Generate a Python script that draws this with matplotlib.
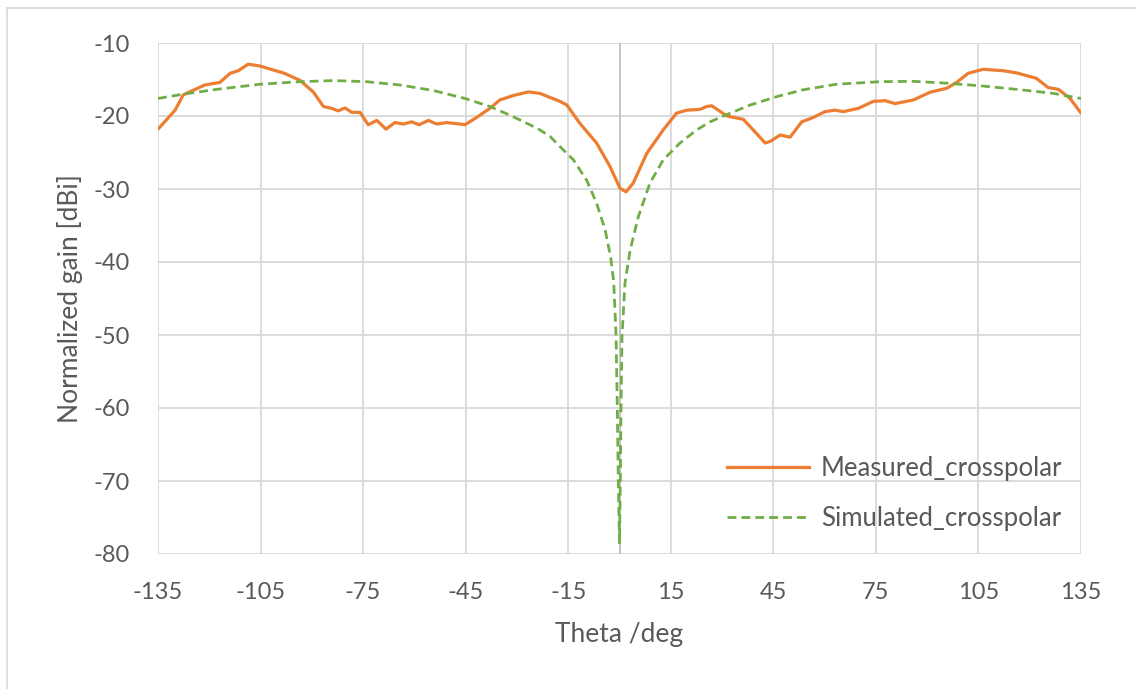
import matplotlib
matplotlib.use("Agg")
import matplotlib.pyplot as plt
from matplotlib.lines import Line2D

# Measured cross-polar pattern (theta in degrees, gain in dBi)
measured_theta = [-135, -130.0, -127.6, -121.3, -116.9, -113.9, -111.5, -108.6, -105.2,
                  -101.3, -98.3, -93.5, -89.6, -86.6, -84.2, -82.3, -80.3, -78.3, -75.9,
                  -73.5, -71.0, -68.3, -65.7, -63.2, -60.8, -58.6, -55.9, -53.5, -50.6,
                  -46.7, -45.2, -41.8, -37.9, -35.0, -31.1, -26.7, -23.3, -17.4, -15.4,
                  -11.6, -6.7, -2.8, 0.15, 1.9, 4.0, 8.0, 12.8, 16.7, 19.7, 23.5,
                  25.5, 27.0, 28.9, 31.4, 36.2, 39.1, 42.6, 44.0, 47.0, 49.9, 53.3, 56.7,
                  60.1, 63.0, 65.5, 69.9, 74.2, 77.7, 80.6, 86.0, 90.8, 95.7, 98.6, 102.0,
                  106.4, 112.3, 116.2, 122.0, 125.4, 128.4, 131.8, 135]
measured_gain = [-21.8, -19.2, -17.1, -15.75, -15.4, -14.15, -13.8, -12.9, -13.15,
                 -13.7, -14.1, -15.1, -16.7, -18.7, -18.95, -19.3, -18.9, -19.5, -19.5,
                 -21.2, -20.6, -21.8, -20.9, -21.1, -20.8, -21.2, -20.6, -21.1, -20.9,
                 -21.1, -21.2, -20.2, -18.95, -17.8, -17.2, -16.7, -16.9, -18.0, -18.5,
                 -21.0, -23.7, -26.9, -29.9, -30.4, -29.2, -25.1, -21.9, -19.6, -19.2,
                 -19.1, -18.7, -18.6, -19.2, -20.0, -20.45, -21.9, -23.7, -23.5, -22.6,
                 -22.9, -20.8, -20.2, -19.4, -19.2, -19.4, -18.95, -18.0, -17.9, -18.3,
                 -17.8, -16.75, -16.2, -15.4, -14.15, -13.6, -13.8, -14.1, -14.85,
                 -16.1, -16.35, -17.6, -19.6]

# Simulated cross-polar pattern
simulated_theta = [-135, -127.6, -117.8, -105.2, -93.5, -83.7, -74.0, -64.3, -54.5,
                   -45.2, -37.9, -32.0, -26.2, -23.3, -20.3, -17.4, -13.5, -9.6, -6.7,
                   -4.2, -2.6, -1.7, -1.0, -0.64, -0.35, 0.0, 0.24, 0.44, 0.73, 1.6,
                   3.1, 5.5, 8.9, 12.8, 17.7, 22.6, 26.5, 30.4, 38.2, 46.0, 53.8, 63.5,
                   76.2, 86.0, 95.7, 106.4, 117.2, 126.9, 135]
simulated_gain = [-17.6, -17.0, -16.35, -15.65, -15.3, -15.15, -15.3, -15.75, -16.5,
                  -17.6, -18.7, -19.9, -21.2, -21.9, -22.8, -24.2, -26.0, -28.8, -31.95,
                  -35.6, -39.3, -42.7, -50.2, -60.0, -69.9, -78.5, -69.9, -60.0, -50.2,
                  -42.9, -38.4, -33.8, -29.2, -26.0, -23.7, -21.9, -20.8, -20.0, -18.5,
                  -17.35, -16.4, -15.65, -15.3, -15.25, -15.5, -15.9, -16.4, -16.9,
                  -17.6]

x_ticks = [-135, -105, -75, -45, -15, 15, 45, 75, 105, 135]
y_ticks = [-80, -70, -60, -50, -40, -30, -20, -10]

label_color = "#595959"
grid_color = "#D9D9D9"
font = "Lato"
sim_dash = (0, (3.2, 1.8))

fig = plt.figure(figsize=(11.36, 6.89), dpi=100)
ax = fig.add_axes([158 / 1136, 1 - 554 / 689, (1081 - 158) / 1136, (554 - 43) / 689])

ax.plot(measured_theta, measured_gain, color="#ED7D31", lw=2.3,
        solid_joinstyle="round", solid_capstyle="round",
        label="Measured_crosspolar", zorder=3)
ax.plot(simulated_theta, simulated_gain, color="#70AD47", lw=2.0,
        linestyle=sim_dash, label="Simulated_crosspolar", zorder=3)

ax.set_xlim(-135, 135)
ax.set_ylim(-80, -10)
ax.set_xticks(x_ticks)
ax.set_yticks(y_ticks)
ax.set_xticklabels([str(t) for t in x_ticks], fontsize=17, color=label_color, family=font)
ax.set_yticklabels([str(t) for t in y_ticks], fontsize=17, color=label_color, family=font)
ax.tick_params(axis="x", length=0, pad=20)
ax.tick_params(axis="y", length=0, pad=20)

ax.grid(True, color=grid_color, lw=1.3)
ax.set_axisbelow(True)
for side in ax.spines.values():
    side.set_visible(False)
ax.axvline(0, color="#BFBFBF", lw=1.3, zorder=1)

ax.set_xlabel("Theta /deg", fontsize=19, color=label_color, family=font, labelpad=14)
ax.set_ylabel("Normalized gain [dBi]", fontsize=19, color=label_color, family=font, labelpad=8)

handles = [Line2D([], [], color="#ED7D31", lw=2.3),
           Line2D([], [], color="#70AD47", lw=2.0, linestyle=sim_dash)]
leg = ax.legend(handles, ["Measured_crosspolar", "Simulated_crosspolar"],
                loc="lower right", bbox_to_anchor=(1.005, 0.0), frameon=False,
                prop={"family": font, "size": 18.5}, labelcolor=label_color,
                handlelength=3.2, handletextpad=0.45, labelspacing=0.95)

# Chart-area frame
fig.add_artist(Line2D([7 / 1136, 7 / 1136], [0, 1 - 8 / 689],
                      transform=fig.transFigure, color="#D9D9D9", lw=1.2))
fig.add_artist(Line2D([7 / 1136, 1], [1 - 8 / 689, 1 - 8 / 689],
                      transform=fig.transFigure, color="#D9D9D9", lw=1.2))

fig.savefig("out.png", dpi=100, facecolor="white")
